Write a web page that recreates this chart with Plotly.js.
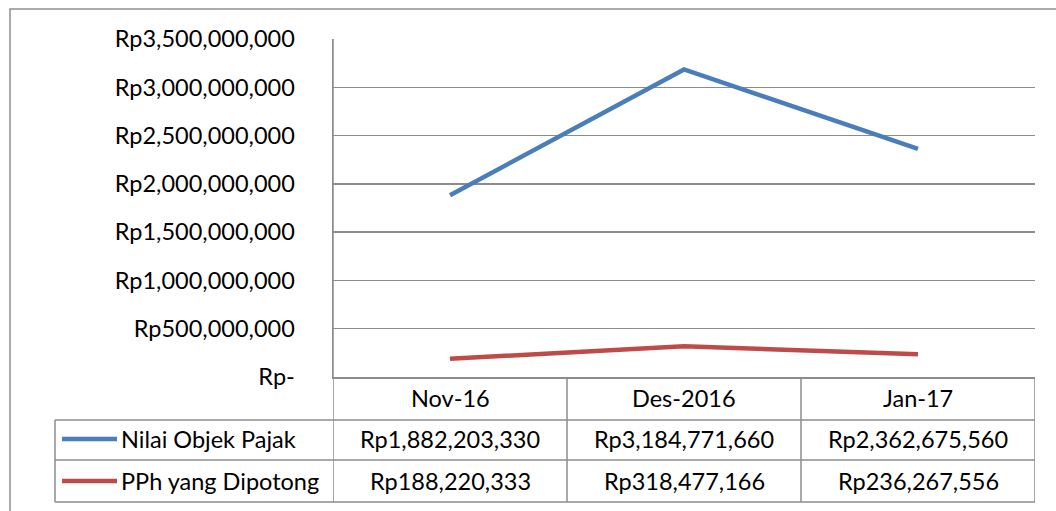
<!DOCTYPE html>
<html><head><meta charset="utf-8">
<script src="https://cdn.plot.ly/plotly-3.0.1.min.js"></script>
<style>html,body{margin:0;padding:0;background:#fff;}#chart{width:1056px;height:511px;}</style>
</head><body><div id="chart"></div>
<script>
const categories = ["Nov-16", "Des-2016", "Jan-17"];
const seriesNames = ["Nilai Objek Pajak", "PPh yang Dipotong"];
const nilaiObjekPajak = [1882203330, 3184771660, 2362675560];
const pphDipotong = [188220333, 318477166, 236267556];
const yTickVals = [0, 500000000, 1000000000, 1500000000, 2000000000, 2500000000, 3000000000, 3500000000];

const colors = ["#4A7EBB", "#BE4B48"];
const FONT = "Lato, 'Open Sans', sans-serif";
const FS = 23.5;
const W = 1056, H = 511;
const L = 333, R = 1035, T = 39, B = 377;
const pw = R - L, ph = B - T;
const px = x => (x - L) / pw;
const py = y => (B - y) / ph;
const fmt = v => v === 0 ? "Rp-" : "Rp" + v.toLocaleString("en-US");

const seriesVals = [nilaiObjekPajak, pphDipotong];
const traces = seriesVals.map((vals, i) => ({
  x: categories.map((c, k) => k), y: vals, type: "scatter", mode: "lines",
  name: seriesNames[i], line: {color: colors[i], width: 4.5}, hoverinfo: "skip"
}));

const gray = "#8c8c8c";
const shapes = [];
shapes.push({type: "rect", xref: "paper", yref: "paper", x0: px(10), x1: px(1080), y0: py(9), y1: py(540), line: {color: "#909090", width: 1.5}, layer: "below"});
const rowY = [420, 460, 502];
rowY.forEach(y => shapes.push({type: "line", xref: "paper", yref: "paper", x0: px(55), x1: px(R), y0: py(y), y1: py(y), line: {color: gray, width: 1.5}}));
shapes.push({type: "line", xref: "paper", yref: "paper", x0: px(55), x1: px(55), y0: py(420), y1: py(502), line: {color: gray, width: 1.5}});
for (let k = 0; k <= categories.length; k++) {
  const x = k - 0.5;
  shapes.push({type: "line", xref: "x", yref: "paper", x0: x, x1: x, y0: py(k === 0 ? T : B), y1: py(502), line: {color: gray, width: 1.5}});
}
const keyY = [439, 481];
keyY.forEach((y, i) => shapes.push({type: "line", xref: "paper", yref: "paper", x0: px(62), x1: px(117), y0: py(y), y1: py(y), line: {color: colors[i], width: 4.5}}));

const annotations = [];
categories.forEach((c, k) => annotations.push({xref: "x", yref: "paper", x: k, y: py(398), text: c, showarrow: false, font: {family: FONT, size: FS, color: "#000"}, xanchor: "center", yanchor: "middle"}));
seriesVals.forEach((vals, i) => {
  annotations.push({xref: "paper", yref: "paper", x: px(119), y: py(keyY[i]), text: seriesNames[i], showarrow: false, xanchor: "left", yanchor: "middle", font: {family: FONT, size: FS, color: "#000"}});
  vals.forEach((v, k) => annotations.push({xref: "x", yref: "paper", x: k, y: py(keyY[i]), text: fmt(v), showarrow: false, xanchor: "center", yanchor: "middle", font: {family: FONT, size: FS, color: "#000"}}));
});

const layout = {
  width: W, height: H,
  margin: {l: L, r: W - R, t: T, b: H - B, pad: 0},
  paper_bgcolor: "#fff", plot_bgcolor: "#fff",
  showlegend: false,
  font: {family: FONT, size: FS, color: "#000"},
  xaxis: {range: [-0.5, 2.5], showticklabels: false, showgrid: false, zeroline: false, showline: true, linecolor: gray, linewidth: 1.5, ticks: "", fixedrange: true},
  yaxis: {range: [0, 3500000000], tickvals: yTickVals, ticktext: yTickVals.map(fmt), showgrid: true, gridcolor: gray, gridwidth: 1.5, zeroline: false, showline: true, linecolor: gray, linewidth: 1.5, ticks: "", ticklabelstandoff: 32, tickfont: {family: FONT, size: FS, color: "#000"}, fixedrange: true},
  shapes: shapes, annotations: annotations
};
Plotly.newPlot("chart", traces, layout, {displayModeBar: false, staticPlot: true});
</script></body></html>
